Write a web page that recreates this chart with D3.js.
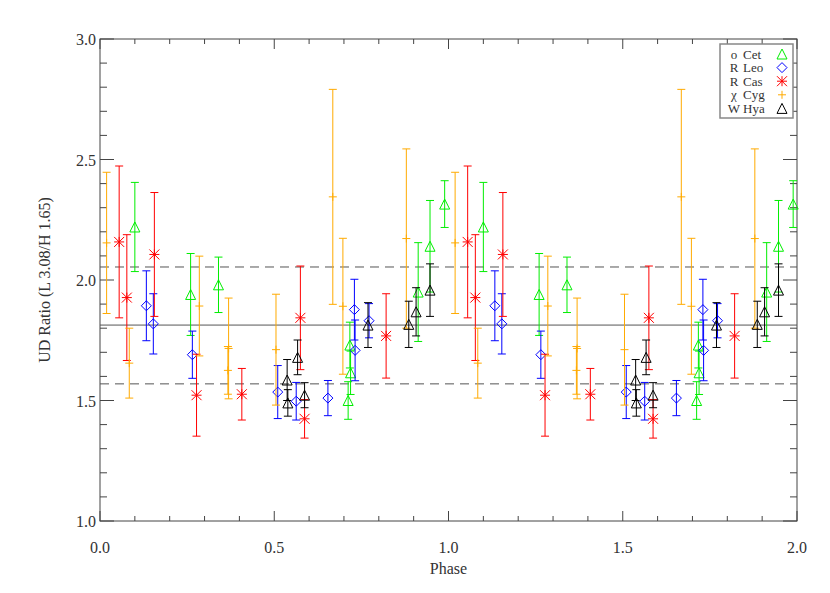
<!DOCTYPE html>
<html>
<head>
<meta charset="utf-8">
<script src="https://cdn.jsdelivr.net/npm/d3@7"></script>
<style>
body { margin: 0; background: #fff; }
svg text { font-family: "Liberation Serif", "DejaVu Serif", serif; fill: #333; }
</style>
</head>
<body>
<svg id="chart"></svg>
<script>
var width = 830,
    height = 593
var margin = { left: 100, right: 33, top: 39, bottom: 72 }

// phase 0..1, drawn twice (phase and phase + 1)
var cetPhase = [0.100, 0.260, 0.340, 0.712, 0.717, 0.719, 0.913, 0.947, 0.989]
var cetRatio = [2.22, 1.94, 1.98, 1.50, 1.73, 1.615, 1.95, 2.14, 2.315]
var cetErr = [0.185, 0.17, 0.115, 0.078, 0.095, 0.09, 0.205, 0.19, 0.097]

var leoPhase = [0.133, 0.153, 0.265, 0.510, 0.563, 0.654, 0.730, 0.732, 0.772]
var leoRatio = [1.893, 1.818, 1.69, 1.535, 1.497, 1.51, 1.877, 1.708, 1.831]
var leoErr = [0.145, 0.125, 0.098, 0.11, 0.078, 0.073, 0.126, 0.126, 0.071]

var casPhase = [0.055, 0.077, 0.156, 0.277, 0.407, 0.575, 0.587, 0.821]
var casRatio = [2.158, 1.927, 2.106, 1.522, 1.526, 1.843, 1.424, 1.768]
var casErr = [0.315, 0.261, 0.257, 0.17, 0.107, 0.215, 0.08, 0.175]

var cygPhase = [0.019, 0.084, 0.285, 0.367, 0.369, 0.505, 0.668, 0.697, 0.879]
var cygRatio = [2.154, 1.655, 1.892, 1.625, 1.716, 1.711, 2.345, 1.891, 2.172]
var cygErr = [0.293, 0.145, 0.207, 0.099, 0.209, 0.23, 0.446, 0.282, 0.372]

var hyaPhase = [0.537, 0.539, 0.567, 0.587, 0.769, 0.886, 0.907, 0.947]
var hyaRatio = [1.585, 1.49, 1.679, 1.522, 1.813, 1.816, 1.868, 1.958]
var hyaErr = [0.085, 0.055, 0.072, 0.052, 0.093, 0.096, 0.1, 0.109]

var meanLine = 1.813
var dashLines = [2.054, 1.569]

var xTicks = [0.0, 0.5, 1.0, 1.5, 2.0]
var yTicks = [1.0, 1.5, 2.0, 2.5, 3.0]

var stars = [
    { name: "o Cet", color: "#00ee00", sym: "triangle", phase: cetPhase, ratio: cetRatio, err: cetErr },
    { name: "R Leo", color: "#0000ff", sym: "diamond", phase: leoPhase, ratio: leoRatio, err: leoErr },
    { name: "R Cas", color: "#ff0000", sym: "asterisk", phase: casPhase, ratio: casRatio, err: casErr },
    { name: "\u03c7 Cyg", color: "#ffaa00", sym: "plus", phase: cygPhase, ratio: cygRatio, err: cygErr },
    { name: "W Hya", color: "#000000", sym: "triangle", phase: hyaPhase, ratio: hyaRatio, err: hyaErr }
]

var svg = d3.select("#chart")
    .attr("width", width)
    .attr("height", height)

var x = d3.scaleLinear().domain([0, 2]).range([margin.left, width - margin.right])
var y = d3.scaleLinear().domain([1, 3]).range([height - margin.bottom, margin.top])

var x0 = x.range()[0], x1 = x.range()[1]
var y0 = y.range()[0], y1 = y.range()[1]
var axisColor = "#444"

// frame
svg.append("rect")
    .attr("x", x0).attr("y", y1)
    .attr("width", x1 - x0).attr("height", y0 - y1)
    .attr("fill", "none").attr("stroke", axisColor).attr("stroke-width", 1)

// ticks (inward, all four sides)
var frame = svg.append("g").attr("stroke", axisColor).attr("stroke-width", 1)
d3.range(0, 21).forEach(function (i) {
    var v = i / 10
    var len = (i % 5 == 0) ? 10 : 5
    frame.append("line").attr("x1", x(v)).attr("x2", x(v)).attr("y1", y0).attr("y2", y0 - len)
    frame.append("line").attr("x1", x(v)).attr("x2", x(v)).attr("y1", y1).attr("y2", y1 + len)
})
d3.range(10, 31).forEach(function (i) {
    var v = i / 10
    var len = (i % 5 == 0) ? 14 : 7
    frame.append("line").attr("x1", x0).attr("x2", x0 + len).attr("y1", y(v)).attr("y2", y(v))
    frame.append("line").attr("x1", x1).attr("x2", x1 - len).attr("y1", y(v)).attr("y2", y(v))
})

svg.append("g").selectAll("text")
    .data(xTicks)
    .enter().append("text")
    .attr("x", function (d) { return x(d) })
    .attr("y", y0 + 32)
    .attr("text-anchor", "middle")
    .attr("font-size", 16)
    .text(function (d) { return d3.format(".1f")(d) })

svg.append("g").selectAll("text")
    .data(yTicks)
    .enter().append("text")
    .attr("x", x0 - 4)
    .attr("y", function (d) { return y(d) + 6 })
    .attr("text-anchor", "end")
    .attr("font-size", 16)
    .text(function (d) { return d3.format(".1f")(d) })

svg.append("text")
    .attr("x", (x0 + x1) / 2)
    .attr("y", y0 + 53)
    .attr("text-anchor", "middle")
    .attr("font-size", 16)
    .text("Phase")

svg.append("text")
    .attr("transform", "translate(50," + (y0 + y1) / 2 + ") rotate(-90)")
    .attr("text-anchor", "middle")
    .attr("font-size", 16)
    .text("UD Ratio (L 3.08/H 1.65)")

// reference lines
svg.append("line")
    .attr("x1", x0).attr("x2", x1)
    .attr("y1", y(meanLine)).attr("y2", y(meanLine))
    .attr("stroke", "#555").attr("stroke-width", 1)
svg.append("g").selectAll("line")
    .data(dashLines)
    .enter().append("line")
    .attr("x1", x0).attr("x2", x1)
    .attr("y1", function (d) { return y(d) }).attr("y2", function (d) { return y(d) })
    .attr("stroke", "#555").attr("stroke-width", 1)
    .attr("stroke-dasharray", "9,6")

function symbolPath(sym, cx, cy) {
    var s = 5
    if (sym == "triangle")
        return "M" + (cx - s) + "," + (cy + s) + "L" + cx + "," + (cy - s) + "L" + (cx + s) + "," + (cy + s) + "Z"
    if (sym == "diamond")
        return "M" + (cx - s) + "," + cy + "L" + cx + "," + (cy - s) + "L" + (cx + s) + "," + cy + "L" + cx + "," + (cy + s) + "Z"
    if (sym == "asterisk")
        return "M" + (cx - s) + "," + cy + "L" + (cx + s) + "," + cy +
            "M" + cx + "," + (cy - s) + "L" + cx + "," + (cy + s) +
            "M" + (cx - s) + "," + (cy - s) + "L" + (cx + s) + "," + (cy + s) +
            "M" + (cx - s) + "," + (cy + s) + "L" + (cx + s) + "," + (cy - s)
    // plus
    return "M" + (cx - 4) + "," + cy + "L" + (cx + 4) + "," + cy + "M" + cx + "," + (cy - 4) + "L" + cx + "," + (cy + 4)
}

var cap = 4
stars.forEach(function (star) {
    var pts = []
    star.phase.forEach(function (p, i) {
        pts.push({ p: p, v: star.ratio[i], e: star.err[i] })
        pts.push({ p: p + 1, v: star.ratio[i], e: star.err[i] })
    })
    var g = svg.append("g")
        .attr("stroke", star.color)
        .attr("fill", "none")
        .attr("stroke-width", 1)
    var bar = g.selectAll("g.bar")
        .data(pts)
        .enter().append("g").attr("class", "bar")
    bar.append("line")
        .attr("x1", function (d) { return x(d.p) }).attr("x2", function (d) { return x(d.p) })
        .attr("y1", function (d) { return y(d.v + d.e) }).attr("y2", function (d) { return y(d.v - d.e) })
    bar.append("line")
        .attr("x1", function (d) { return x(d.p) - cap }).attr("x2", function (d) { return x(d.p) + cap })
        .attr("y1", function (d) { return y(d.v + d.e) }).attr("y2", function (d) { return y(d.v + d.e) })
    bar.append("line")
        .attr("x1", function (d) { return x(d.p) - cap }).attr("x2", function (d) { return x(d.p) + cap })
        .attr("y1", function (d) { return y(d.v - d.e) }).attr("y2", function (d) { return y(d.v - d.e) })
    bar.append("path")
        .attr("d", function (d) { return symbolPath(star.sym, x(d.p), y(d.v)) })
})

// legend
var lg = svg.append("g")
lg.append("rect")
    .attr("x", 720).attr("y", 44)
    .attr("width", 73).attr("height", 74)
    .attr("fill", "#fff").attr("stroke", "#888").attr("stroke-width", 1.5)
stars.forEach(function (star, i) {
    var ly = 54 + i * 13.6
    var parts = star.name.split(" ")
    lg.append("text").attr("x", 734).attr("y", ly + 4.5)
        .attr("text-anchor", "middle").attr("font-size", 13).text(parts[0])
    lg.append("text").attr("x", 743).attr("y", ly + 4.5)
        .attr("font-size", 13).text(parts[1])
    lg.append("path")
        .attr("d", symbolPath(star.sym, 782, ly))
        .attr("stroke", star.color).attr("fill", "none").attr("stroke-width", 1)
})
</script>
</body>
</html>
